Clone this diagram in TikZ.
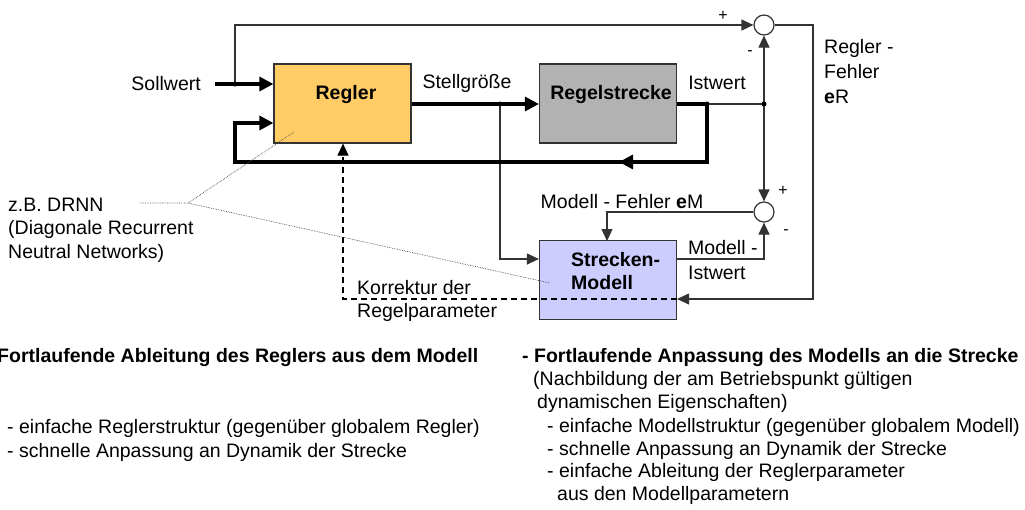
\documentclass[tikz,border=0pt]{standalone}
\usepackage{fontspec}
\setmainfont{Liberation Sans}
\usetikzlibrary{arrows.meta,calc}
\definecolor{reglerc}{HTML}{FFCC66}
\definecolor{streckec}{HTML}{B2B2B2}
\definecolor{modellc}{HTML}{CCCCFF}
\definecolor{linec}{HTML}{333333}
\begin{document}
\begin{tikzpicture}[x=1pt,y=-1pt,
  every node/.style={font=\fontsize{19.5}{22}\selectfont, inner sep=0pt},
  blockbox/.style={draw=linec, line width=1.2pt, minimum width=137pt, minimum height=79pt},
  sumnode/.style={circle, draw=linec, line width=1.2pt, fill=white, minimum size=20pt},
  thickline/.style={line width=3.2pt, -{Triangle[length=14pt,width=14pt]}},
  thinline/.style={line width=1.2pt, draw=linec, -{Triangle[length=12pt,width=11pt]}},
  plainthin/.style={line width=1.2pt, draw=linec},
  dashline/.style={line width=1.2pt, dash pattern=on 6pt off 4pt, -{Triangle[length=12pt,width=11pt]}},
  dotline/.style={line width=0.7pt, densely dotted, draw=black!70},
  dotnode/.style={circle, fill=black, minimum size=5pt},
  lbl/.style={anchor=west},
  sgn/.style={font=\fontsize{16}{18}\selectfont}
]
\useasboundingbox (0,0) rectangle (1025,509);

% blocks
\node[blockbox, fill=reglerc] (regler) at (342.5,103.5) {};
\node[blockbox, fill=streckec] (strecke) at (608,103.5) {};
\node[blockbox, fill=modellc] (modell) at (608,280) {};
\node[font=\bfseries\fontsize{19.5}{22}\selectfont] (treg) at (346,94) {Regler};
\node[font=\bfseries\fontsize{19.5}{22}\selectfont] (tstr) at (611,94) {Regelstrecke};
\node[font=\bfseries\fontsize{19.5}{22}\selectfont, anchor=west] (tmod1) at (571,260) {Strecken-};
\node[font=\bfseries\fontsize{19.5}{22}\selectfont, anchor=west] (tmod2) at (571,283) {Modell};

% sum junctions
\node[sumnode] (s1) at (764,25) {};
\node[sumnode] (s2) at (764,212) {};

% coordinates
\coordinate (sw) at (215,84);
\coordinate (d1) at (235,84);
\coordinate (d2) at (500,104);
\coordinate (d4) at (707,104);
\coordinate (d3) at (764,104);
\coordinate (fbr) at (707,162);
\coordinate (fbl) at (235,162);
\coordinate (fbu) at (235,123);
\coordinate (er1) at (813,25);
\coordinate (er2) at (813,299);
\coordinate (min) at (607,241);
\coordinate (dsh) at (343,299);
\coordinate (ma) at (640,162);
\coordinate (mb) at (619,162);

% main signal lines
\draw[thickline] (sw) -- (regler.west |- sw);
\draw[thinline] (d1) |- (s1.west);
\draw[thickline] (regler.east |- d2) -- (strecke.west |- d2);
\draw[thinline] (d2) |- (modell.west |- 0,259);
\draw[thickline] (strecke.east |- d4) -- (d4) -- (fbr) -- (fbl) -- (fbu) -- (regler.west |- fbu);
\draw[thickline] (ma) -- (mb);
\draw[plainthin] (d4) -- (d3);
\draw[thinline] (d3) -- (s1.south);
\draw[thinline] (d3) -- (s2.north);
\draw[thinline] (s1.east) -- (er1) -- (er2) -- (modell.east |- er2);
\draw[thinline] (s2.west) -| (min);
\draw[thinline] (modell.east |- 0,259) -| (s2.south);
\draw[dashline] (modell.east |- er2) -- (dsh) -- (regler.south -| dsh);

% dots
\foreach \p in {d1,d2,d4,d3} \node[dotnode] at (\p) {};

% annotation dotted lines
\coordinate (an0) at (140,203);
\coordinate (br) at (188,203);
\coordinate (an1) at (294,132);
\coordinate (an2) at (550,283);
\draw[dotline] (an0) -- (br) -- (an1);
\draw[dotline] (br) -- (an2);

% labels
\node[anchor=east] (lsoll) at (201,84) {Sollwert};
\node (lstell) at (467,83) {Stellgröße};
\node (list) at (717,83) {Istwert};
\node[sgn] (p1) at (723,16) {+};
\node[sgn] (m1) at (750,53) {-};
\node[sgn] (p2) at (783,191) {+};
\node[sgn] (m2) at (786,232) {-};
\node[lbl] (er_a) at (824,48) {Regler -};
\node[lbl] (er_b) at (824,72) {Fehler};
\node[lbl] (er_c) at (824,97) {\textbf{e}R};
\node (lmf) at (622,202) {Modell - Fehler \textbf{e}M};
\node[lbl] (lmi1) at (688,248) {Modell -};
\node[lbl] (lmi2) at (688,273) {Istwert};
\node[lbl] (lk1) at (357,288) {Korrektur der};
\node[lbl] (lk2) at (357,312) {Regelparameter};
\node[lbl] (lz1) at (8,205) {z.B. DRNN};
\node[lbl] (lz2) at (8,229) {(Diagonale Recurrent};
\node[lbl] (lz3) at (8,253) {Neutral Networks)};

% bottom text left
\node[lbl, font=\bfseries\fontsize{19.5}{22}\selectfont] (bl1) at (-3,357) {Fortlaufende Ableitung des Reglers aus dem Modell};
\node[lbl] (bl2) at (7,428) {- einfache Reglerstruktur (gegenüber globalem Regler)};
\node[lbl] (bl3) at (7,452) {- schnelle Anpassung an Dynamik der Strecke};

% bottom text right
\node[lbl, font=\bfseries\fontsize{19.5}{22}\selectfont] (br1) at (522,357) {- Fortlaufende Anpassung des Modells an die Strecke};
\node[lbl] (br2) at (533,380) {(Nachbildung der am Betriebspunkt gültigen};
\node[lbl] (br3) at (537,403) {dynamischen Eigenschaften)};
\node[lbl] (br4) at (547,427) {- einfache Modellstruktur (gegenüber globalem Modell)};
\node[lbl] (br5) at (547,450) {- schnelle Anpassung an Dynamik der Strecke};
\node[lbl] (br6) at (547,472) {- einfache Ableitung der Reglerparameter};
\node[lbl] (br7) at (557,495) {aus den Modellparametern};
\end{tikzpicture}
\end{document}
